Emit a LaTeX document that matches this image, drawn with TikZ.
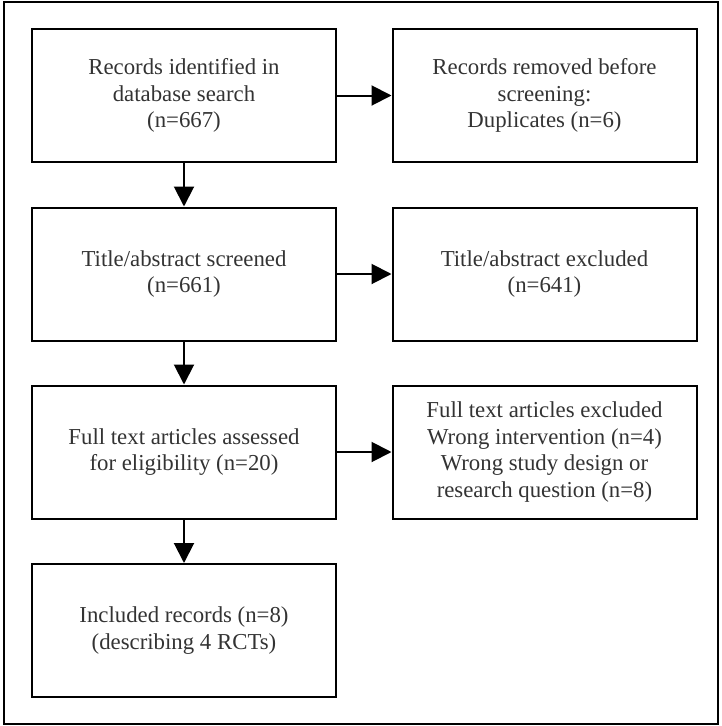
\documentclass[tikz,border=0pt]{standalone}
\usepackage{fontspec}
\setmainfont{Liberation Serif}
\usetikzlibrary{arrows.meta}
\begin{document}
\begin{tikzpicture}[x=1pt,y=-1pt,
  box/.style={draw=black,line width=2pt,minimum width=304pt,minimum height=133pt,
    align=center,inner sep=0pt,text=black!80,font=\fontsize{22.8}{26.5}\selectfont},
  arr/.style={line width=2pt,-{Triangle[length=20pt,width=20pt]}}]
\useasboundingbox (0,0) rectangle (722,726);
\draw[line width=2pt] (3.5,1.5) rectangle (717.5,723.5);
\node[box] (a) at (184,95.5) {Records identified in\\database search\\(n=667)};
\node[box] (b) at (544.5,95.5) {Records removed before\\screening:\\Duplicates (n=6)};
\node[box] (c) at (184,274) {Title/abstract screened\\(n=661)};
\node[box] (d) at (544.5,274) {Title/abstract excluded\\(n=641)};
\node[box] (e) at (184,452) {Full text articles assessed\\for eligibility (n=20)};
\node[box] (f) at (544.5,452) {Full text articles excluded\\Wrong intervention (n=4)\\Wrong study design or\\research question (n=8)};
\node[box] (g) at (184,630.5) {Included records (n=8)\\(describing 4 RCTs)};
\draw[arr] (a) -- (b);
\draw[arr] (c) -- (d);
\draw[arr] (e) -- (f);
\draw[arr] (a) -- (c);
\draw[arr] (c) -- (e);
\draw[arr] (e) -- (g);
\end{tikzpicture}
\end{document}
